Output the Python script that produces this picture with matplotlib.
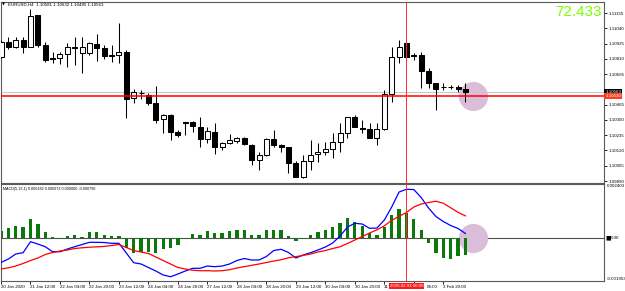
import numpy as np
import matplotlib.pyplot as plt
from matplotlib.transforms import ScaledTranslation

plt.rcParams['font.family'] = ['Liberation Sans', 'DejaVu Sans']

# EURUSD H4 candles, 20 Jan 20:00 .. 4 Feb 08:00
opens = [1.10824, 1.10937, 1.10899, 1.10952, 1.10899, 1.11140, 1.10914, 1.10816, 1.10816, 1.10846,
         1.10899, 1.10854, 1.10854, 1.10922, 1.10891, 1.10839, 1.10839, 1.10861, 1.10515, 1.10553,
         1.10538, 1.10477, 1.10357, 1.10387, 1.10259, 1.10334, 1.10334, 1.10297, 1.10206, 1.10259,
         1.10146, 1.10176, 1.10191, 1.10214, 1.10161, 1.10048, 1.10086, 1.10206, 1.10161, 1.10146,
         1.10026, 1.09920, 1.10041, 1.10093, 1.10108, 1.10131, 1.10184, 1.10251, 1.10372, 1.10289,
         1.10282, 1.10214, 1.10282, 1.10545, 1.10824, 1.10929, 1.10839, 1.10839, 1.10718, 1.10628,
         1.10598, 1.10598, 1.10598, 1.10581]
highs = [1.10952, 1.10974, 1.10974, 1.10974, 1.11185, 1.11140, 1.10937, 1.10861, 1.10861, 1.10929,
         1.10974, 1.10974, 1.10937, 1.10997, 1.10914, 1.10914, 1.11080, 1.10876, 1.10583, 1.10575,
         1.10553, 1.10605, 1.10394, 1.10394, 1.10274, 1.10338, 1.10342, 1.10372, 1.10297, 1.10327,
         1.10184, 1.10244, 1.10221, 1.10221, 1.10169, 1.10108, 1.10214, 1.10274, 1.10169, 1.10150,
         1.10041, 1.10086, 1.10199, 1.10176, 1.10184, 1.10251, 1.10327, 1.10372, 1.10387, 1.10349,
         1.10327, 1.10327, 1.10575, 1.10899, 1.10952, 1.10935, 1.10854, 1.10861, 1.10741, 1.10630,
         1.10628, 1.10613, 1.10613, 1.10632]
lows = [1.10816, 1.10884, 1.10891, 1.10854, 1.10899, 1.10899, 1.10786, 1.10779, 1.10771, 1.10748,
        1.10763, 1.10703, 1.10839, 1.10794, 1.10809, 1.10786, 1.10779, 1.10364, 1.10477, 1.10507,
        1.10462, 1.10327, 1.10251, 1.10199, 1.10221, 1.10236, 1.10259, 1.10146, 1.10176, 1.10093,
        1.10123, 1.10169, 1.10176, 1.10161, 1.10011, 1.09973, 1.10078, 1.10146, 1.10108, 1.09950,
        1.09920, 1.09915, 1.09973, 1.10033, 1.10086, 1.10063, 1.10108, 1.10214, 1.10297, 1.10251,
        1.10214, 1.10161, 1.10274, 1.10485, 1.10779, 1.10820, 1.10801, 1.10590, 1.10590, 1.10425,
        1.10575, 1.10583, 1.10560, 1.10485]
closes = [1.10937, 1.10899, 1.10952, 1.10899, 1.11132, 1.10914, 1.10801, 1.10809, 1.10846, 1.10899,
          1.10891, 1.10899, 1.10929, 1.10891, 1.10831, 1.10835, 1.10861, 1.10507, 1.10560, 1.10550,
          1.10477, 1.10349, 1.10387, 1.10259, 1.10236, 1.10330, 1.10304, 1.10206, 1.10267, 1.10146,
          1.10176, 1.10199, 1.10214, 1.10169, 1.10048, 1.10086, 1.10206, 1.10161, 1.10146, 1.10026,
          1.09920, 1.10041, 1.10086, 1.10108, 1.10131, 1.10184, 1.10251, 1.10372, 1.10297, 1.10282,
          1.10214, 1.10282, 1.10545, 1.10824, 1.10899, 1.10824, 1.10835, 1.10718, 1.10628, 1.10583,
          1.10595, 1.10600, 1.10583, 1.10563]

# MACD(5,13,1): main line, signal, histogram
macd_main = [-0.001123, -0.000965, -0.000741, -0.000682, -0.000189, -0.000292, -0.000413, -0.000638,
             -0.000638, -0.000516, -0.000413, -0.000314, -0.000216, -0.000216, -0.000225, -0.000260,
             -0.000260, -0.000696, -0.001131, -0.001190, -0.001347, -0.001504, -0.001684, -0.001760,
             -0.001639, -0.001504, -0.001383, -0.001383, -0.001280, -0.001311, -0.001280, -0.001190,
             -0.001033, -0.000943, -0.001010, -0.001010, -0.000853, -0.000584, -0.000530, -0.000674,
             -0.000920, -0.000786, -0.000682, -0.000561, -0.000427, -0.000247, 0.000067, 0.000471,
             0.000638, 0.000606, 0.000413, 0.000427, 0.000786, 0.001369, 0.002043, 0.002164,
             0.002155, 0.001796, 0.001325, 0.000943, 0.000718, 0.000539, 0.000404, 0.000182]
macd_signal = [-0.001414, -0.001360, -0.001280, -0.001167, -0.001033, -0.000920, -0.000763, -0.000674,
               -0.000606, -0.000561, -0.000494, -0.000462, -0.000436, -0.000418, -0.000400, -0.000359,
               -0.000314, -0.000449, -0.000584, -0.000651, -0.000718, -0.000876, -0.001033, -0.001190,
               -0.001347, -0.001414, -0.001468, -0.001491, -0.001491, -0.001504, -0.001491, -0.001446,
               -0.001369, -0.001311, -0.001248, -0.001190, -0.001123, -0.001055, -0.000997, -0.000911,
               -0.000858, -0.000804, -0.000741, -0.000651, -0.000584, -0.000494, -0.000413, -0.000269,
               -0.000112, 0.000045, 0.000202, 0.000346, 0.000525, 0.000772, 0.000952, 0.001123,
               0.001369, 0.001504, 0.001572, 0.001630, 0.001540, 0.001334, 0.001131, 0.000972]
macd_hist = [0.000305, 0.000413, 0.000516, 0.000485, 0.000831, 0.000606, 0.000233, 0.000020,
             -0.000067, 0.000067, 0.000112, 0.000036, 0.000233, 0.000260, 0.000112, 0.000067,
             0.000067, -0.000485, -0.000682, -0.000638, -0.000638, -0.000682, -0.000530, -0.000485,
             -0.000337, -0.000081, 0.000157, 0.000112, 0.000292, 0.000189, 0.000216, 0.000292,
             0.000337, 0.000337, 0.000112, 0.000112, 0.000337, 0.000337, 0.000337, 0.000067,
             -0.000144, -0.000067, 0.000112, 0.000260, 0.000337, 0.000485, 0.000665, 0.000862,
             0.000709, 0.000516, 0.000216, 0.000112, 0.000458, 0.001010, 0.001266, 0.001114,
             0.000817, 0.000337, -0.000233, -0.000709, -0.000934, -0.000965, -0.000831, -0.000790]

price_ticks = [1.11155, 1.11040, 1.10925, 1.10810, 1.10695, 1.10465, 1.10350,
               1.10235, 1.10120, 1.10005, 1.09890]
price_range = [1.09879, 1.11242]
macd_range = [-0.001953, 0.002403]
level = 1.10530          # red horizontal line
cursor_bar = 55          # red vertical line, 3 Feb 00:00
time_ticks = [0, 4, 8, 12, 16, 20, 24, 28, 32, 36, 40, 44, 48, 52, 56, 60]
# the cursor label hides most of "31 Jan 12:00" and "3 Feb 04:00"
time_labels = ['20 Jan 2020', '21 Jan 12:00', '22 Jan 04:00', '22 Jan 20:00', '23 Jan 12:00',
               '24 Jan 04:00', '24 Jan 20:00', '27 Jan 12:00', '28 Jan 04:00', '28 Jan 20:00',
               '29 Jan 12:00', '30 Jan 04:00', '30 Jan 20:00', '31', '04:00',
               '3 Feb 20:00']
cursor_label = '2020.02.03 00:00'
score = '72.433'

o = np.array(opens)
h = np.array(highs)
l = np.array(lows)
c = np.array(closes)
x = np.arange(len(c))
up = c >= o
dn = ~up

W, H = 625, 291
fig = plt.figure(figsize=(W / 100, H / 100), dpi=100)


def rect(left, top, right, bottom):
    return [left / W, 1 - bottom / H, (right - left) / W, (bottom - top) / H]


ax = fig.add_axes(rect(1, 1.5, 604, 182.5))
ax2 = fig.add_axes(rect(1, 184, 604, 281))
xlim = (0, 81.8)
frame = '#5a5a5a'
fs = 3.2

# candles
ax.axhline(c[-1], color='#c8c8c8', lw=0.7, zorder=1)
ax.plot(len(c), level, 'o', ms=21, color='#d9bdd9', mec='none', zorder=1.5)
ax.vlines(x, l, h, color='black', lw=0.75, zorder=3)
ax.bar(x[up], np.maximum(c[up] - o[up], 0.000015), bottom=o[up], width=0.68,
       facecolor='white', edgecolor='black', lw=0.75, zorder=4)
ax.bar(x[dn], np.maximum(o[dn] - c[dn], 0.000015), bottom=c[dn], width=0.68,
       facecolor='black', edgecolor='black', lw=0.75, zorder=4)
ax.axhline(level, color='#ff0000', lw=1.1, zorder=5)
ax.axvline(cursor_bar, color='#ff2a2a', lw=0.7, zorder=5)
ax.set_xlim(*xlim)
ax.set_ylim(*price_range)
ax.set_xticks([])
ax.yaxis.tick_right()
ax.set_yticks(price_ticks)
ax.set_yticklabels([f'{p:.5f}' for p in price_ticks])
ax.tick_params(axis='y', length=2, width=0.6, pad=1, labelsize=fs, colors='black')

ty = ax.get_yaxis_transform()
ax.text(1.002, c[-1], f'{c[-1]:.5f}', transform=ty, fontsize=fs, color='white',
        va='center', ha='left', zorder=6,
        bbox=dict(facecolor='black', edgecolor='none', pad=0.8))
ax.text(1.002, level, f'{level:.5f}', transform=ty, fontsize=fs, color='white',
        va='center', ha='left', zorder=6,
        bbox=dict(facecolor='#ff3c1e', edgecolor='none', pad=0.8))

# MACD
ax2.axhline(0, color='#505050', lw=0.8, zorder=1)
ax2.plot(len(c), 0, 'o', ms=21, color='#d9bdd9', mec='none', zorder=1.5)
ax2.bar(x, macd_hist, width=0.45, color='#0a780a', zorder=2)
ax2.plot(x, macd_main, color='#0000ff', lw=0.9, zorder=4)
ax2.plot(x, macd_signal, color='#ff0000', lw=0.9, zorder=4)
ax2.axvline(cursor_bar, color='#ff2a2a', lw=0.7, zorder=5)
ax2.set_xlim(*xlim)
ax2.set_ylim(*macd_range)
ax2.set_yticks([])
ax2.set_xticks(time_ticks)
ax2.set_xticklabels(time_labels, ha='left', fontsize=fs)
ax2.tick_params(axis='x', length=2, width=0.6, pad=1.2)
# the partly hidden "04:00" shows just right of the cursor label
shift = ScaledTranslation(13 / 100, 0, fig.dpi_scale_trans)
for lbl in ax2.get_xticklabels():
    if lbl.get_text() == '04:00':
        lbl.set_transform(lbl.get_transform() + shift)

t2 = ax2.get_yaxis_transform()
ax2.text(1.004, macd_range[1], f'{macd_range[1]:.6f}', transform=t2, fontsize=fs,
         va='top', ha='left')
ax2.text(1.004, macd_range[0], f'{macd_range[0]:.6f}', transform=t2, fontsize=fs,
         va='bottom', ha='left')
ax2.text(1.003, 0, '\u25a0', transform=t2, fontsize=fs + 1, va='center', ha='left',
         family=['DejaVu Sans'])
ax2.text(1.012, 0, '0.00', transform=t2, fontsize=fs, va='center', ha='left')
ax2.text(cursor_bar, -0.055, cursor_label, transform=ax2.get_xaxis_transform(),
         fontsize=fs, color='white', ha='center', va='center', zorder=10,
         bbox=dict(facecolor='#ff1a1a', edgecolor='none', pad=0.8))
ax2.text(0.004, 0.97, 'MACD(5,13,1) 0.000182 0.000972 0.000000 -0.000790',
         transform=ax2.transAxes, fontsize=2.7, va='top', ha='left')

for a in (ax, ax2):
    for s in a.spines.values():
        s.set_color(frame)
        s.set_linewidth(0.8)

fig.text(2 / W, 1 - 5 / H, '\u25bc', fontsize=2.8, va='center', ha='left',
         family=['DejaVu Sans'])
fig.text(8 / W, 1 - 5 / H, 'EURUSD,H4  1.10581 1.10632 1.10485 1.10563',
         fontsize=fs, va='center', ha='left')
fig.text(602 / W, 1 - 12.5 / H, score, fontsize=11, color='#7cfc00',
         va='center', ha='right')

fig.savefig('out.png', dpi=100)
